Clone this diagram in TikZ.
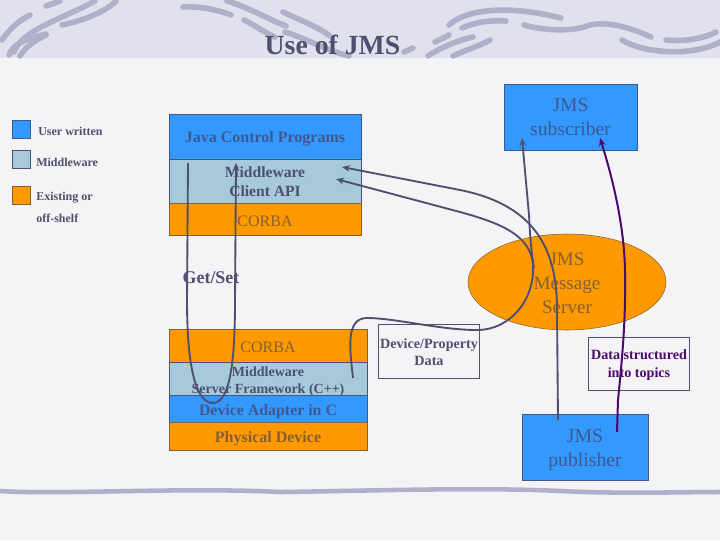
\documentclass[tikz,border=0pt]{standalone}
\usepackage{fontspec}
\setmainfont{Liberation Serif}
\usetikzlibrary{positioning}
\usetikzlibrary{shapes.geometric}
\usetikzlibrary{arrows.meta}
\definecolor{pagebg}{HTML}{F4F4F6}
\definecolor{bandbg}{HTML}{E1E1ED}
\definecolor{swirl}{HTML}{B0B0CB}
\definecolor{userblue}{HTML}{3399FF}
\definecolor{midblue}{HTML}{A6CAD9}
\definecolor{offorange}{HTML}{FF9900}
\definecolor{inkgray}{HTML}{4F4F70}
\definecolor{inkblue}{HTML}{40588F}
\definecolor{inkbrown}{HTML}{85612F}
\definecolor{linkpurple}{HTML}{4B0A6B}
\newcommand{\droptext}[1]{\rule{0pt}{#1pt}}
\tikzset{
	layer/.style={draw,anchor=north west,inner sep=0,outer sep=0,align=center,line width=.7pt},
	userbox/.style={layer,fill=userblue,draw=inkblue,text=inkblue},
	midbox/.style={layer,fill=midblue,draw=inkgray,text=inkgray},
	offbox/.style={layer,fill=offorange,draw=inkbrown,text=inkbrown},
	legendbox/.style={minimum width=14.2pt,minimum height=14.2pt},
	legendtext/.style={anchor=west,inner sep=0,text=inkgray,font=\fontsize{9}{11}\selectfont\bfseries},
	notebox/.style={draw=inkgray,line width=.5pt,inner sep=0,align=center,minimum width=76pt,font=\fontsize{10.6}{13}\selectfont\bfseries},
	swirlline/.style={swirl,line width=4.2pt,line cap=round},
	link/.style={inkgray,line width=1.4pt},
	linkhead/.style={link,-{Stealth[length=6pt,width=5pt]}},
	pubhead/.style={linkpurple,line width=1.5pt,-{Stealth[length=6pt,width=5pt]}}
}
\begin{document}
\begin{tikzpicture}[x=.75pt,y=-.75pt]
	\useasboundingbox (0,0) rectangle (720,540);
	\fill[pagebg] (0,0) rectangle (720,540);
	\fill[bandbg] (0,0) rectangle (720,58);
	%% header swirls
	\draw[swirlline] (2,40) .. controls (10,28) and (20,20) .. (30,15);
	\draw[swirlline] (9,55) .. controls (14,42) and (30,38) .. (46,34);
	\draw[swirlline] (20,56) .. controls (26,46) and (36,40) .. (46,35);
	\draw[swirlline] (14,52) .. controls (22,30) and (60,20) .. (95,1);
	\draw[swirlline] (62,25) .. controls (85,20) and (105,12) .. (116,1);
	\draw[swirlline] (46,6) -- (60,1);
	\draw[swirlline] (183,7) .. controls (200,6) and (218,10) .. (231,15);
	\draw[swirlline] (227,1) .. controls (250,8) and (270,20) .. (286,26);
	\draw[swirlline] (283,12) .. controls (300,20) and (320,28) .. (330,36);
	\draw[swirlline] (244,20) .. controls (255,25) and (265,33) .. (275,37);
	\draw[swirlline] (285,32) .. controls (305,38) and (325,50) .. (349,56);
	\draw[swirlline] (404,52) -- (413,48);
	\draw[swirlline] (428,56) .. controls (440,48) and (458,40) .. (473,37);
	\draw[swirlline] (453,56) .. controls (465,50) and (480,46) .. (490,40);
	\draw[swirlline] (435,42) -- (449,35);
	\draw[swirlline] (449,25) .. controls (465,10) and (505,4) .. (561,18);
	\draw[swirlline] (462,28) .. controls (475,22) and (490,20) .. (506,21);
	\draw[swirlline] (524,25) .. controls (545,31) and (570,31) .. (584,27) .. controls (600,20) and (625,25) .. (651,37);
	\draw[swirlline] (666,40) .. controls (685,42) and (705,38) .. (716,32);
	\draw[swirlline] (622,40) .. controls (640,52) and (690,58) .. (720,42);
	%% footer line
	\draw[swirl,line width=3.4pt] (0,491) .. controls (60,495) and (180,487) .. (280,492) .. controls (360,491) and (480,487) .. (560,491) .. controls (620,494) and (680,492) .. (720,492);
	\node[font=\fontsize{20.8}{24}\selectfont\bfseries,text=inkgray,inner sep=0] (title) at (332.5,45) {Use of JMS};
	%% legend
	\node[userbox,legendbox] (lguser) at (12,120) {};
	\node[midbox,legendbox] (lgmid) at (12,150) {};
	\node[offbox,legendbox] (lgoff) at (12,186) {};
	\node[legendtext] (lgusertext) at (38,131) {User written};
	\node[legendtext] (lgmidtext) at (36,162) {Middleware};
	\node[legendtext] (lgofftext) at (36,198) {Existing or};
	\node[legendtext] (lgshelf) at (36,218.500) {off-shelf};
	%% client stack
	\node[userbox,minimum width=144pt,minimum height=33.75pt,font=\fontsize{12}{14}\selectfont\bfseries] (java) at (169,114) {\droptext{11.2}Java Control Programs};
	\node[midbox,minimum width=144pt,minimum height=33pt,font=\fontsize{11.7}{14}\selectfont\bfseries,below=0 of java] (client) {\droptext{9.3}Middleware\\Client API};
	\node[offbox,minimum width=144pt,minimum height=24pt,font=\fontsize{12}{14}\selectfont,below=0 of client] (corbaup) {\droptext{11}CORBA};
	%% server stack
	\node[offbox,minimum width=148.500pt,minimum height=24.750pt,font=\fontsize{12}{14}\selectfont] (corbadown) at (169,329) {\droptext{11}CORBA};
	\node[midbox,minimum width=148.500pt,minimum height=24.750pt,text height=22.5pt,text depth=.75pt,font=\fontsize{10.500}{12.750}\selectfont\bfseries,below=0 of corbadown] (server) {Middleware\\Server Framework (C++)};
	\node[userbox,minimum width=148.500pt,minimum height=20.250pt,font=\fontsize{11.900}{14}\selectfont\bfseries,below=0 of server] (adapter) {\droptext{12.600}Device Adapter in C};
	\node[offbox,minimum width=148.500pt,minimum height=21pt,font=\fontsize{12}{14}\selectfont\bfseries,below=0 of adapter] (device) {\droptext{12.700}Physical Device};
	%% jms parts
	\node[userbox,minimum width=99.750pt,minimum height=49.500pt,font=\fontsize{14.700}{18}\selectfont] (subscriber) at (504,84) {JMS\\subscriber};
	\node[userbox,minimum width=94.500pt,minimum height=49.500pt,font=\fontsize{14.800}{18}\selectfont] (publisher) at (522,414) {\droptext{14.300}JMS\\publisher};
	\node[draw=inkbrown,fill=offorange,text=inkbrown,shape=ellipse,inner sep=0,minimum width=148.500pt,minimum height=72pt,align=center,font=\fontsize{14.300}{18}\selectfont] (jmsserver) at (567,282) {\droptext{11}JMS\\Message\\Server};
	\node[font=\fontsize{13.400}{15}\selectfont\bfseries,text=inkgray,inner sep=0] (getset) at (211,278) {Get/Set};
	\node[notebox,minimum height=40.500pt,text=inkgray] (devdata) at (429,351) {\droptext{9}Device/Property\\Data};
	\node[notebox,minimum height=39.750pt,text=linkpurple] (topics) at (639,363.500) {\droptext{9.700}Data structured\\into topics};
	%% connectors
	\coordinate (loopa) at (188,163);
	\coordinate (loopb) at (236,163);
	\coordinate (pubgray) at (558,420);
	\coordinate (cliA) at (342,167);
	\coordinate (cliB) at (336,179);
	\coordinate (srvend) at (353,378);
	\coordinate (subA) at (522,138);
	\coordinate (subB) at (600,138);
	\coordinate (srvmid) at (534,268);
	\coordinate (pubpurple) at (617,432);
	\draw[linkhead] (loopa) -- (187,300) .. controls (187,350) and (192,403) .. (213,403) .. controls (232,403) and (235,350) .. (235,300) -- (loopb);
	\draw[linkhead] (pubgray) -- (557,310) .. controls (557,255) and (540,206) .. (460,190) -- (cliA);
	\draw[linkhead] (srvend) .. controls (350,350) and (345,318) .. (367,318) .. controls (395,318) and (440,330) .. (477,330) .. controls (510,330) and (535,300) .. (533,265) .. controls (531,235) and (500,223) .. (460,212) -- (cliB);
	\draw[linkhead] (srvmid) .. controls (531,250) and (530,235) .. (529,215) -- (subA);
	\draw[pubhead] (pubpurple) -- (618,400) .. controls (622,360) and (626,320) .. (625,270) .. controls (624,220) and (610,170) .. (subB);
\end{tikzpicture}
\end{document}
